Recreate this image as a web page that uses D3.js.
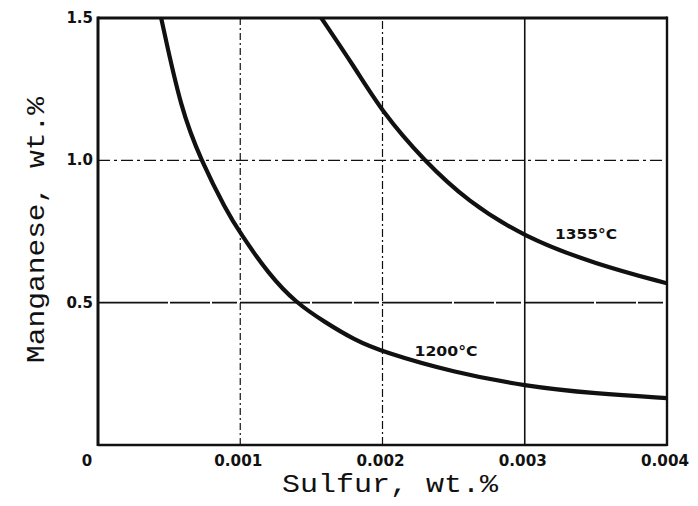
<!DOCTYPE html>
<html>
<head>
<meta charset="utf-8">
<script src="https://cdn.jsdelivr.net/npm/d3@7"></script>
<style>
  html, body { margin: 0; padding: 0; background: #fff; }
  svg { display: block; }
</style>
</head>
<body>
<svg id="chart" width="698" height="506"></svg>
<script>
// Mn–S solubility curves at two temperatures
const xTicks = [0, 0.001, 0.002, 0.003, 0.004];
const xTickLabels = ["0", "0.001", "0.002", "0.003", "0.004"];
const yTicks = [0.5, 1.0, 1.5];
const yTickLabels = ["0.5", "1.0", "1.5"];

const series1200Label = "1200°C";
const series1200S = [0.000444, 0.000585, 0.000725, 0.0009, 0.001, 0.0012, 0.00139, 0.0016, 0.0018, 0.002, 0.0025, 0.003, 0.0035, 0.004];
const series1200Mn = [1.5, 1.175, 1.0, 0.825, 0.744, 0.6, 0.5, 0.43, 0.37, 0.327, 0.255, 0.207, 0.18, 0.165];

const series1355Label = "1355°C";
const series1355S = [0.00157, 0.0018, 0.002, 0.00229, 0.0026, 0.003, 0.0035, 0.004];
const series1355Mn = [1.5, 1.33, 1.168, 1.0, 0.855, 0.73, 0.635, 0.568];

const svg = d3.select("#chart");
const plotLeft = 98, plotRight = 667, plotTop = 18, plotBottom = 445;

const x = d3.scaleLinear().domain([0, 0.004]).range([plotLeft, plotRight]);
const y = d3.scaleLinear().domain([0, 1.5]).range([plotBottom, plotTop]);

const ink = "#111";

// grid lines
const vStyles = { 0.001: "7,3,2,3", 0.002: "8,3,2,3", 0.003: null };
[0.001, 0.002, 0.003].forEach(v => {
  svg.append("line")
    .attr("x1", x(v)).attr("x2", x(v))
    .attr("y1", y(0)).attr("y2", y(1.5))
    .attr("stroke", ink)
    .attr("stroke-width", v === 0.003 ? 1.6 : 1.2)
    .attr("stroke-dasharray", vStyles[v]);
});
const hStyles = { 0.5: "70,2,40,2,25,3", 1.0: "12,4,3,4" };
[0.5, 1.0].forEach(v => {
  svg.append("line")
    .attr("x1", x(0)).attr("x2", x(0.004))
    .attr("y1", y(v)).attr("y2", y(v))
    .attr("stroke", ink)
    .attr("stroke-width", v === 0.5 ? 1.6 : 1.3)
    .attr("stroke-dasharray", hStyles[v]);
});

// frame
svg.append("line").attr("x1", x(0)).attr("x2", x(0.004)).attr("y1", y(1.5)).attr("y2", y(1.5))
  .attr("stroke", ink).attr("stroke-width", 3.2);
svg.append("line").attr("x1", x(0)).attr("x2", x(0)).attr("y1", y(1.5) - 1.5).attr("y2", y(0) + 1)
  .attr("stroke", ink).attr("stroke-width", 3);
svg.append("line").attr("x1", x(0)).attr("x2", x(0.004)).attr("y1", y(0)).attr("y2", y(0))
  .attr("stroke", ink).attr("stroke-width", 2.6);
svg.append("line").attr("x1", x(0.004)).attr("x2", x(0.004)).attr("y1", y(1.5) - 1.5).attr("y2", y(0) + 1)
  .attr("stroke", ink).attr("stroke-width", 2.4);

// curves
const line = d3.line()
  .x(d => x(d[0]))
  .y(d => y(d[1]))
  .curve(d3.curveBasis);

svg.append("clipPath").attr("id", "plot-clip")
  .append("rect").attr("x", plotLeft).attr("y", plotTop)
  .attr("width", plotRight - plotLeft).attr("height", plotBottom - plotTop);

[[series1200S, series1200Mn], [series1355S, series1355Mn]].forEach(([xs, ys]) => {
  svg.append("path")
    .datum(xs.map((s, i) => [s, ys[i]]))
    .attr("d", line)
    .attr("fill", "none")
    .attr("stroke", ink)
    .attr("stroke-width", 4.2)
    .attr("stroke-linecap", "round")
    .attr("clip-path", "url(#plot-clip)");
});

// curve labels
const labelFont = "'DejaVu Sans', sans-serif";
svg.append("text").text(series1355Label)
  .attr("x", 586).attr("y", 239)
  .attr("text-anchor", "middle")
  .attr("font-family", labelFont).attr("font-weight", "bold")
  .attr("font-size", 14.5).attr("fill", ink)
  .attr("textLength", 62).attr("lengthAdjust", "spacingAndGlyphs");
svg.append("text").text(series1200Label)
  .attr("x", 446).attr("y", 356)
  .attr("text-anchor", "middle")
  .attr("font-family", labelFont).attr("font-weight", "bold")
  .attr("font-size", 14.5).attr("fill", ink)
  .attr("textLength", 63).attr("lengthAdjust", "spacingAndGlyphs");

// tick labels
const tickFont = "'DejaVu Sans', sans-serif";
xTicks.forEach((v, i) => {
  const t = svg.append("text").text(xTickLabels[i])
    .attr("x", v === 0 ? x(v) - 11 : x(v) - 2).attr("y", 466)
    .attr("text-anchor", "middle")
    .attr("font-family", tickFont).attr("font-weight", "bold")
    .attr("font-size", 15).attr("fill", ink);
  if (xTickLabels[i].length > 1) t.attr("textLength", 48).attr("lengthAdjust", "spacingAndGlyphs");
});
yTicks.forEach((v, i) => {
  svg.append("text").text(yTickLabels[i])
    .attr("x", plotLeft - 5).attr("y", y(v) + 5)
    .attr("text-anchor", "end")
    .attr("font-family", tickFont).attr("font-weight", "bold")
    .attr("font-size", 15).attr("fill", ink);
});

// axis titles
const titleFont = "'Liberation Mono', 'Courier New', monospace";
svg.append("text").text("Sulfur, wt.%")
  .attr("x", 390).attr("y", 492)
  .attr("text-anchor", "middle")
  .attr("font-family", titleFont).attr("font-size", 25).attr("fill", ink)
  .attr("textLength", 216).attr("lengthAdjust", "spacingAndGlyphs");
svg.append("text").text("Manganese, wt.%")
  .attr("transform", "translate(44,230) rotate(-90)")
  .attr("text-anchor", "middle")
  .attr("font-family", titleFont).attr("font-size", 26).attr("fill", ink)
  .attr("textLength", 266).attr("lengthAdjust", "spacingAndGlyphs");
</script>
</body>
</html>
